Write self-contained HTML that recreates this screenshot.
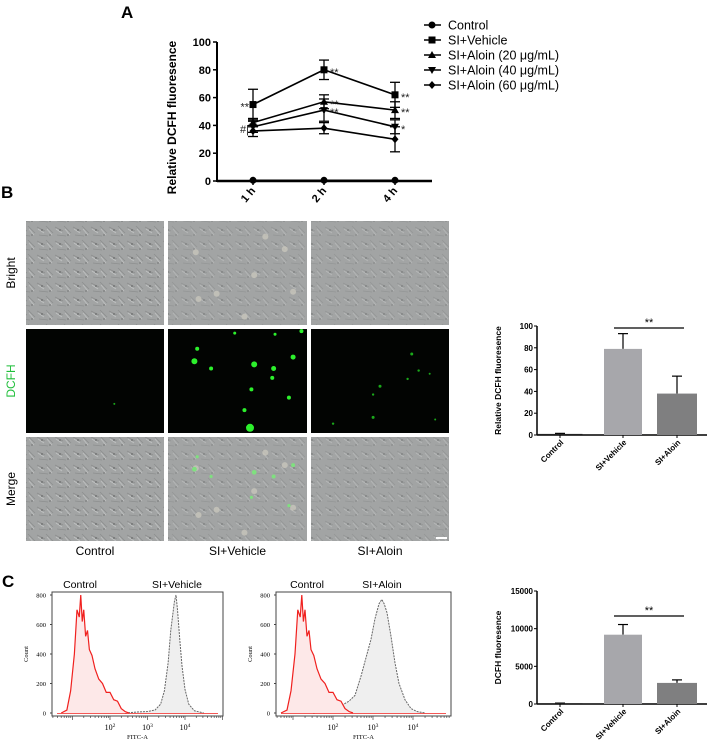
<!DOCTYPE html>
<html><head><meta charset="utf-8"><style>
html,body{margin:0;padding:0;background:#fff;width:708px;height:744px;overflow:hidden}
svg{display:block;font-family:"Liberation Sans",Arial,sans-serif}
</style></head><body>
<svg id="fig" width="708" height="744" viewBox="0 0 708 744">
<defs>
<pattern id="cells" x="0" y="0" width="18" height="14" patternUnits="userSpaceOnUse">
<path d="M1 3 L9 7 M10 2 L17 9 M3 11 L12 12" stroke="#8a8c8c" stroke-width="0.8" fill="none"/>
<path d="M2 5 L8 9 M11 5 L16 11" stroke="#c4c6c6" stroke-width="0.8" fill="none"/>
<circle cx="6" cy="6" r="1" fill="#6f7171"/>
<circle cx="14" cy="11" r="0.9" fill="#767878"/>
</pattern>
</defs>
<g id="gA"></g>
<g id="gB"></g>
<g id="gB2"></g>
<g id="gC"></g>
<g id="gC2"></g>
</svg>
<script>
// ---------- Panel A data ----------
const timeLabels = ["1 h","2 h","4 h"];
const seriesNames = ["Control","SI+Vehicle","SI+Aloin (20 μg/mL)","SI+Aloin (40 μg/mL)","SI+Aloin (60 μg/mL)"];
const ctrlVals = [0.5,0.5,0.5];
const vehVals = [55,80,62];
const vehErr = [11,7,9];
const al20Vals = [42,57,51];
const al20Err = [3,5,6];
const al40Vals = [39,51,39];
const al40Err = [4,8,5];
const al60Vals = [36,38,30];
const al60Err = [4,4,9];
const yTicksA = [0,20,40,60,80,100];

// ---------- Panel B / C bar data ----------
const groups = ["Control","SI+Vehicle","SI+Aloin"];
const bBarVals = [1,79,38];
const bBarErr = [0.5,14,16];
const bTicks = [0,20,40,60,80,100];
const cBarVals = [100,9200,2800];
const cBarErr = [20,1350,400];
const cTicks = [0,5000,10000,15000];
const barColors = ["#222222","#a7a7ab","#7f7f80"];

// ---------- Panel C histogram data (log10 FITC, count) ----------
const ctrlLog = [0.70,0.85,0.95,1.05,1.12,1.18,1.22,1.26,1.30,1.35,1.40,1.45,1.52,1.60,1.70,1.80,1.90,2.00,2.10,2.20,2.30,2.40,2.50];
const ctrlCnt = [0,20,150,400,700,650,800,620,700,520,560,430,390,300,230,200,140,140,90,80,30,10,0];
const vehLog = [2.40,2.80,3.00,3.20,3.35,3.45,3.55,3.62,3.68,3.72,3.76,3.80,3.86,3.92,4.00,4.10,4.25,4.50];
const vehCnt = [0,8,10,20,60,150,340,560,680,760,800,700,500,320,160,60,15,0];
const alLog = [1.50,1.80,2.00,2.20,2.40,2.55,2.70,2.85,2.95,3.05,3.15,3.22,3.28,3.35,3.45,3.55,3.65,3.80,3.95,4.10,4.30];
const alCnt = [0,10,30,50,80,120,250,400,500,640,740,770,740,680,520,340,200,90,30,10,0];
const histTicks = [0,200,400,600,800];
const decades = [2,3,4];

const NS="http://www.w3.org/2000/svg";
function mk(parent,tag,attrs,text){const e=document.createElementNS(NS,tag);for(const k in attrs)e.setAttribute(k,attrs[k]);if(text!==undefined)e.textContent=text;parent.appendChild(e);return e;}

// ================= Panel A =================
const gA=document.getElementById('gA');
const ax={x0:217,x1:432,y0:181,y1:42};
const xA=i=>[253,324,395][i];
const yA=v=>ax.y0-(v/100)*(ax.y0-ax.y1);
let t=mk(gA,'text',{x:121,y:18,'font-size':17,'font-weight':'bold'},'A');


mk(gA,'line',{x1:ax.x0,y1:ax.y1,x2:ax.x0,y2:ax.y0+1,stroke:'#000','stroke-width':2});
mk(gA,'line',{x1:ax.x0,y1:ax.y0,x2:ax.x1,y2:ax.y0,stroke:'#000','stroke-width':2.5});
yTicksA.forEach(v=>{
  mk(gA,'line',{x1:ax.x0-4,y1:yA(v),x2:ax.x0,y2:yA(v),stroke:'#000','stroke-width':1.5});
  const tt=mk(gA,'text',{x:ax.x0-6,y:yA(v)+4,'font-size':11,'font-weight':'bold','text-anchor':'end'},v);
  
  
});
timeLabels.forEach((l,i)=>{
  mk(gA,'line',{x1:xA(i),y1:ax.y0,x2:xA(i),y2:ax.y0+4,stroke:'#000','stroke-width':1.5});
  const tt=mk(gA,'text',{x:xA(i)+3,y:ax.y0+10,'font-size':11,'font-weight':'bold','text-anchor':'end',transform:`rotate(-50 ${xA(i)+3} ${ax.y0+10})`},l);
  
  
});
t=mk(gA,'text',{x:0,y:0,'font-size':12,'font-weight':'bold','text-anchor':'middle',transform:`translate(176 ${(ax.y0+ax.y1)/2+6}) rotate(-90)`},'Relative DCFH fluoresence');



function marker(g,type,x,y){
  if(type==='circle')return mk(g,'circle',{cx:x,cy:y,r:3.5,fill:'#000'});
  if(type==='square')return mk(g,'rect',{x:x-3.5,y:y-3.5,width:7,height:7,fill:'#000'});
  if(type==='up')return mk(g,'polygon',{points:`${x},${y-4} ${x-4},${y+3} ${x+4},${y+3}`,fill:'#000'});
  if(type==='down')return mk(g,'polygon',{points:`${x},${y+4} ${x-4},${y-3} ${x+4},${y-3}`,fill:'#000'});
  return mk(g,'polygon',{points:`${x},${y-4} ${x-3.5},${y} ${x},${y+4} ${x+3.5},${y}`,fill:'#000'});
}
const series=[[ctrlVals,null,'circle'],[vehVals,vehErr,'square'],[al20Vals,al20Err,'up'],[al40Vals,al40Err,'down'],[al60Vals,al60Err,'diamond']];
series.forEach((s,si)=>{
  const g=mk(gA,'g',{});
  
  
  const pts=s[0].map((v,i)=>`${xA(i)},${yA(v)}`).join(' ');
  mk(g,'polyline',{points:pts,fill:'none',stroke:'#000','stroke-width':1.6});
  s[0].forEach((v,i)=>{
    if(s[1]){const e=s[1][i];
      mk(g,'line',{x1:xA(i),y1:yA(v+e),x2:xA(i),y2:yA(v-e),stroke:'#000','stroke-width':1.3});
      mk(g,'line',{x1:xA(i)-5,y1:yA(v+e),x2:xA(i)+5,y2:yA(v+e),stroke:'#000','stroke-width':1.3});
      mk(g,'line',{x1:xA(i)-5,y1:yA(v-e),x2:xA(i)+5,y2:yA(v-e),stroke:'#000','stroke-width':1.3});}
    const m=marker(g,s[2],xA(i),yA(v));
    
    
  });
});
const sigA=[[0,vehVals[0],'**','end'],[0,al40Vals[0],'#|','end'],[1,vehVals[1],'**','start'],[1,al20Vals[1],'**','start'],[1,al40Vals[1],'**','start'],[2,vehVals[2],'**','start'],[2,al20Vals[2],'**','start'],[2,al40Vals[2],'*','start']];
sigA.forEach(s=>{
  const x=s[3]==='end'?xA(s[0])-4:xA(s[0])+6;
  const tt=mk(gA,'text',{x:x,y:yA(s[1])+6,'font-size':11,'text-anchor':s[3],fill:'#222'},s[2]);
  
  
});
const legTypes=['circle','square','up','down','diamond'];
seriesNames.forEach((n,i)=>{
  const y=25+i*15;
  const g=mk(gA,'g',{});
  
  
  mk(g,'line',{x1:424,y1:y,x2:441,y2:y,stroke:'#000','stroke-width':1.6});
  marker(g,legTypes[i],432,y);
  mk(g,'text',{x:448,y:y+4.5,'font-size':12.5},n);
});

// ================= Panel B micrographs =================
const gB=document.getElementById('gB');
t=mk(gB,'text',{x:1,y:198,'font-size':17,'font-weight':'bold'},'B');


const colX=[26,168,311], colW=[138,139,138];
const rowY=[221,329,437], rowH=104;
const rowNames=['Bright','DCFH','Merge'];
const spotsVeh=[[.19,.31,3],[.31,.38,2],[.62,.34,3],[.9,.27,2.5],[.76,.38,2.5],[.21,.19,2],[.6,.58,2],[.87,.66,2],[.75,.47,2],[.55,.78,2],[.59,.95,4],[.96,.02,2],[.77,.05,1.5],[.48,.04,1.5]];
const spotsAl=[[.73,.24,1.5],[.78,.4,1.2],[.5,.55,1.5],[.45,.63,1.2],[.45,.85,1.5],[.16,.91,1.2],[.7,.48,1.2],[.86,.43,1],[.9,.87,1]];
rowNames.forEach((rn,r)=>{
  colX.forEach((cx,c)=>{
    const g=mk(gB,'g',{});
    
    
    if(r===1){
      mk(g,'rect',{x:cx,y:rowY[r],width:colW[c],height:rowH,fill:'#020402'});
      const sp=c===1?spotsVeh:(c===2?spotsAl:[[.64,.72,1]]);
      sp.forEach(s=>mk(g,'circle',{cx:cx+s[0]*colW[c],cy:rowY[r]+s[1]*rowH,r:s[2],fill:c===1?'#2cf02c':'#1aa81a'}));
    } else {
      mk(g,'rect',{x:cx,y:rowY[r],width:colW[c],height:rowH,fill:'#a2a4a4'});
      mk(g,'rect',{x:cx,y:rowY[r],width:colW[c],height:rowH,fill:'url(#cells)',opacity:c===0?0.9:0.6});
      if(c===1){
        [[.2,.3],[.35,.7],[.62,.52],[.84,.27],[.9,.68],[.22,.75],[.55,.92],[.7,.15]].forEach(p=>mk(g,'circle',{cx:cx+p[0]*colW[c],cy:rowY[r]+p[1]*rowH,r:3,fill:'#c8c6bc',opacity:.8}));
        if(r===2) spotsVeh.slice(0,8).forEach(s=>mk(g,'circle',{cx:cx+s[0]*colW[c],cy:rowY[r]+s[1]*rowH,r:s[2]*0.8,fill:'#7fe07f'}));
      }
    }
  });
  const ly=rowY[r]+rowH/2;
  const tt=mk(gB,'text',{x:0,y:0,'font-size':12,'text-anchor':'middle',fill:r===1?'#1fbf3a':'#000',transform:`translate(15 ${ly}) rotate(-90)`},rn);
  
  
});
mk(gB,'rect',{x:436,y:537,width:11,height:2,fill:'#fff'});
groups.forEach((gname,c)=>{
  const tt=mk(gB,'text',{x:colX[c]+colW[c]/2,y:555,'font-size':12,'text-anchor':'middle'},gname);
  
  
});

// ================= Bar charts =================
function barChart(gid,vals,errs,ticks,max,ay0,ay1,ylabel,sigY){
  const g=document.getElementById(gid);
  const x0=537,x1=707;
  const y=v=>ay0-(v/max)*(ay0-ay1);
  const centers=[560,623,677],w=[45,38,40];
  mk(g,'line',{x1:x0,y1:ay1,x2:x0,y2:ay0,stroke:'#000','stroke-width':1.5});
  mk(g,'line',{x1:x0,y1:ay0,x2:x1,y2:ay0,stroke:'#000','stroke-width':1.5});
  ticks.forEach(v=>{
    mk(g,'line',{x1:x0-3,y1:y(v),x2:x0,y2:y(v),stroke:'#000','stroke-width':1});
    const tt=mk(g,'text',{x:x0-4,y:y(v)+3,'font-size':8,'font-weight':'bold','text-anchor':'end'},v);
    
    
  });
  vals.forEach((v,i)=>{
    const e=errs[i];
    mk(g,'line',{x1:centers[i],y1:y(v+e),x2:centers[i],y2:y(v),stroke:'#000','stroke-width':1.2});
    mk(g,'line',{x1:centers[i]-5,y1:y(v+e),x2:centers[i]+5,y2:y(v+e),stroke:'#000','stroke-width':1.2});
    const b=mk(g,'rect',{x:centers[i]-w[i]/2,y:y(v),width:w[i],height:ay0-y(v),fill:barColors[i]});
    
    
    mk(g,'line',{x1:centers[i],y1:ay0,x2:centers[i],y2:ay0+3,stroke:'#000','stroke-width':1});
    const tt=mk(g,'text',{x:centers[i]+4,y:ay0+8,'font-size':8,'font-weight':'bold','text-anchor':'end',transform:`rotate(-45 ${centers[i]+4} ${ay0+8})`},groups[i]);
    
    
  });
  mk(g,'line',{x1:614,y1:sigY,x2:684,y2:sigY,stroke:'#000','stroke-width':1.3});
  let s=mk(g,'text',{x:649,y:sigY-2,'font-size':11,'text-anchor':'middle'},'**');
  
  
  s=mk(g,'text',{x:0,y:0,'font-size':8.5,'font-weight':'bold','text-anchor':'middle',transform:`translate(501 ${(ay0+ay1)/2}) rotate(-90)`},ylabel);
  
  
}
barChart('gB2',bBarVals,bBarErr,bTicks,100,435,326,'Relative DCFH fluoresence',328);
barChart('gC2',cBarVals,cBarErr,cTicks,15000,704,591,'DCFH fluoresence',616);

// ================= Panel C histograms =================
const gC=document.getElementById('gC');
t=mk(gC,'text',{x:2,y:587,'font-size':17,'font-weight':'bold'},'C');


function hist(bx0,bx1,p2,dec,treatLog,treatCnt,lab2,lx1,lx2){
  const g=mk(gC,'g',{});
  
  
  const y0=713,y1=595,by0=716,by1=592;
  const xs=l=>p2+(l-2)*dec;
  const ys=v=>y0-(v/800)*(y0-y1);
  mk(g,'rect',{x:bx0,y:by1,width:bx1-bx0,height:by0-by1,fill:'none',stroke:'#444','stroke-width':1});
  histTicks.forEach(v=>{
    mk(g,'line',{x1:bx0-2,y1:ys(v),x2:bx0,y2:ys(v),stroke:'#444'});
    mk(g,'text',{x:bx0-6,y:ys(v)+2.5,'font-size':6.5,'text-anchor':'end','font-family':'Liberation Serif, serif'},v);
  });
  for(let d=0;d<=5;d++){for(let k=1;k<10;k++){const l=d+Math.log10(k);const x=xs(l);if(x>bx0&&x<bx1)mk(g,'line',{x1:x,y1:by0,x2:x,y2:by0+(k===1?4:2),stroke:'#444','stroke-width':.7});}}
  decades.forEach(d=>{
    const tt=mk(g,'text',{x:xs(d),y:by0+14,'font-size':8,'text-anchor':'middle','font-family':'Liberation Serif, serif'});
    tt.innerHTML=`10<tspan dy="-3" font-size="5.5">${d}</tspan>`;
  });
  mk(g,'text',{x:(bx0+bx1)/2,y:739,'font-size':6.5,'text-anchor':'middle','font-family':'Liberation Serif, serif'},'FITC-A');
  mk(g,'text',{x:0,y:0,'font-size':6.5,'text-anchor':'middle','font-family':'Liberation Serif, serif',transform:`translate(${bx0-24} ${(by0+by1)/2}) rotate(-90)`},'Count');
  const path=(L,C)=>L.map((l,i)=>`${xs(l)},${ys(C[i])}`).join(' ');
  const tp=path(treatLog,treatCnt);
  mk(g,'polygon',{points:`${xs(treatLog[0])},${y0} ${tp} ${xs(treatLog[treatLog.length-1])},${y0}`,fill:'#efefef'});
  mk(g,'polyline',{points:tp,fill:'none',stroke:'#666','stroke-width':1,'stroke-dasharray':'2 1'});
  const cp=path(ctrlLog,ctrlCnt);
  mk(g,'polygon',{points:`${xs(ctrlLog[0])},${y0} ${cp} ${xs(ctrlLog[ctrlLog.length-1])},${y0}`,fill:'#fde8e8'});
  mk(g,'polyline',{points:cp,fill:'none',stroke:'#f0201e','stroke-width':1.2});
  mk(g,'line',{x1:bx0+5,y1:y0+.5,x2:bx1-5,y2:y0+.5,stroke:'#f0201e','stroke-width':.8});
  let tt=mk(g,'text',{x:lx1,y:588,'font-size':10.5,'text-anchor':'middle'},'Control');
  
  
  tt=mk(g,'text',{x:lx2,y:588,'font-size':10.5,'text-anchor':'middle'},lab2);
  
  
}
hist(52,223,110,37.5,vehLog,vehCnt,'SI+Vehicle',80,177);
hist(276,451,333,40,alLog,alCnt,'SI+Aloin',307,382);
</script>
</body></html>
